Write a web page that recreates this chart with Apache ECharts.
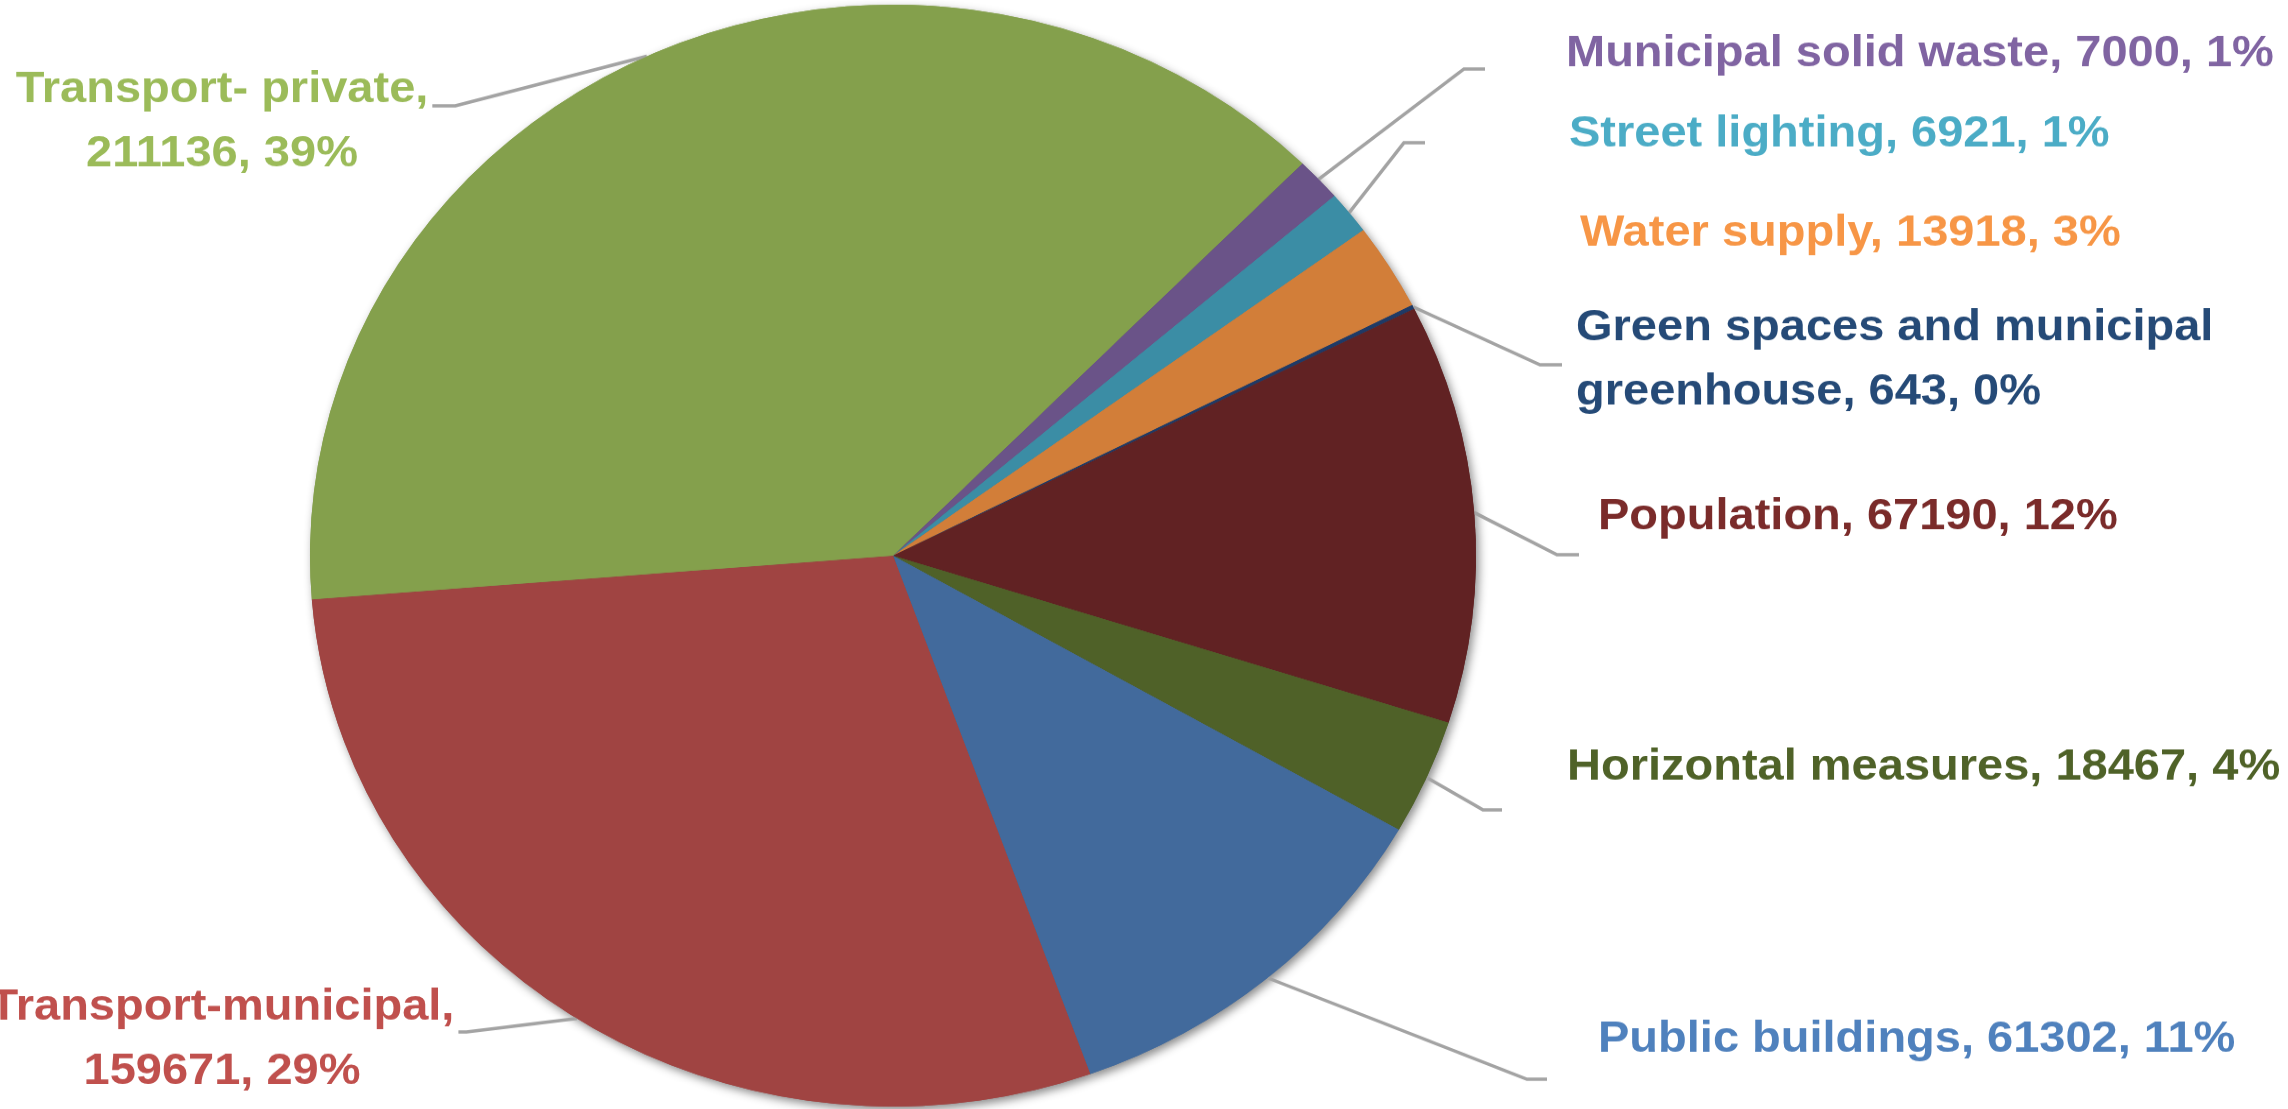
<!DOCTYPE html>
<html>
<head>
<meta charset="utf-8">
<script src="https://cdn.jsdelivr.net/npm/echarts@6/dist/echarts.min.js"></script>
<style>
  html, body { margin: 0; padding: 0; background: #ffffff; overflow: hidden; width: 2288px; height: 1109px; }
  /* the pie is drawn slightly flattened, so the whole chart is squeezed vertically */
  #chart { width: 2288px; height: 1174px; transform: scaleY(0.945); transform-origin: 0 0; }
</style>
</head>
<body>
<div id="chart"></div>
<script>
// Emissions by sector (clockwise from the top-right)
const categories = [
  'Municipal solid waste',
  'Street lighting',
  'Water supply',
  'Green spaces and municipal greenhouse',
  'Population',
  'Horizontal measures',
  'Public buildings',
  'Transport-municipal',
  'Transport- private'
];
const values = [7000, 6921, 13918, 643, 67190, 18467, 61302, 159671, 211136];

const sliceColors = ['#6A5388', '#3B8DA5', '#D27E39', '#1F3A66', '#612223', '#4F6128', '#426A9C', '#A04442', '#84A04C'];
const labelColors = ['#8064A2', '#4BACC6', '#F79646', '#254A77', '#7A2B2A', '#4F6228', '#4F81BD', '#C0504D', '#9BBB59'];

// label text templates
const labelFormats = [
  '{b}, {c}, {d}%', '{b}, {c}, {d}%', '{b}, {c}, {d}%', '{b}, {c}, {d}%',
  '{b}, {c}, {d}%', '{b}, {c}, {d}%', '{b}, {c}, {d}%',
  '{b},\n{c}, {d}%', '{b},\n{c}, {d}%'
];

// label placement (chart pixels): text x (left edge or centre), text middle y, align
const labelX = [1566, 1569, 1580, 1576, 1598, 1567, 1598, 222, 222];
const labelY = [57, 142, 247, 381, 547, 812, 1100, 1100, 129];
const labelAlign = ['left', 'left', 'left', 'left', 'left', 'left', 'left', 'center', 'center'];
// leader line: vertical offset of the tail from the text middle, gap to the text, tail length
const leaderShown = [true, true, false, true, true, true, true, true, true];
const leaderDy = [16, 9, 0, 5, 40, 45, 42, -8, -17];
const leaderGap = [81, 144, 0, 14, 19, 65, 51, 4, 4];
const leaderTail = [21, 21, 0, 22, 22, 19, 20, 8, 23];

const PIE_CENTER = [893, 588];
const PIE_RADIUS = 583;
const START_ANGLE = 45.4;

const pieData = categories.map((name, i) => {
  const item = {
    name: name,
    value: values[i],
    itemStyle: { color: sliceColors[i] },
    label: {
      color: labelColors[i],
      formatter: labelFormats[i],
      align: labelAlign[i]
    },
    labelLine: { show: leaderShown[i] }
  };
  if (i === 3) {
    item.label.width = 680;
    item.label.overflow = 'break';
  }
  return item;
});

const chart = echarts.init(document.getElementById('chart'), null, { renderer: 'canvas' });

chart.setOption({
  animation: false,
  backgroundColor: '#ffffff',
  series: [
    {
      // soft drop shadow under the disc
      type: 'pie',
      silent: true,
      z: 1,
      center: PIE_CENTER,
      radius: PIE_RADIUS,
      startAngle: START_ANGLE,
      clockwise: true,
      label: { show: false },
      labelLine: { show: false },
      emphasis: { disabled: true },
      itemStyle: {
        borderWidth: 0,
        shadowBlur: 10,
        shadowOffsetX: 3,
        shadowOffsetY: 4,
        shadowColor: 'rgba(0,0,0,0.45)'
      },
      data: categories.map((name, i) => ({ name: name, value: values[i], itemStyle: { color: sliceColors[i] } }))
    },
    {
      type: 'pie',
      z: 2,
      center: PIE_CENTER,
      radius: PIE_RADIUS,
      startAngle: START_ANGLE,
      clockwise: true,
      percentPrecision: 0,
      avoidLabelOverlap: false,
      emphasis: { disabled: true },
      itemStyle: { borderWidth: 0 },
      label: {
        show: true,
        position: 'outside',
        fontFamily: 'Liberation Sans',
        fontWeight: 'bold',
        fontSize: 47,
        lineHeight: 68
      },
      labelLine: {
        show: true,
        length: 20,
        length2: 20,
        smooth: false,
        lineStyle: { color: '#A3A3A3', width: 3.5 }
      },
      labelLayout: function (params) {
        const i = params.dataIndex;
        const out = { x: labelX[i], y: labelY[i], align: labelAlign[i], verticalAlign: 'middle' };
        const pts = params.labelLinePoints;
        if (leaderShown[i] && pts && pts.length) {
          const anchor = pts[0];
          const ly = labelY[i] + leaderDy[i];
          let endX, elbowX;
          if (labelAlign[i] === 'center') {
            // leader arrives at the right-hand side of the block
            endX = labelX[i] + params.labelRect.width / 2 + leaderGap[i];
            elbowX = endX + leaderTail[i];
          } else {
            endX = labelX[i] - leaderGap[i];
            elbowX = endX - leaderTail[i];
          }
          out.labelLinePoints = [[anchor[0], anchor[1]], [elbowX, ly], [endX, ly]];
        }
        return out;
      },
      data: pieData
    }
  ]
});
</script>
</body>
</html>
